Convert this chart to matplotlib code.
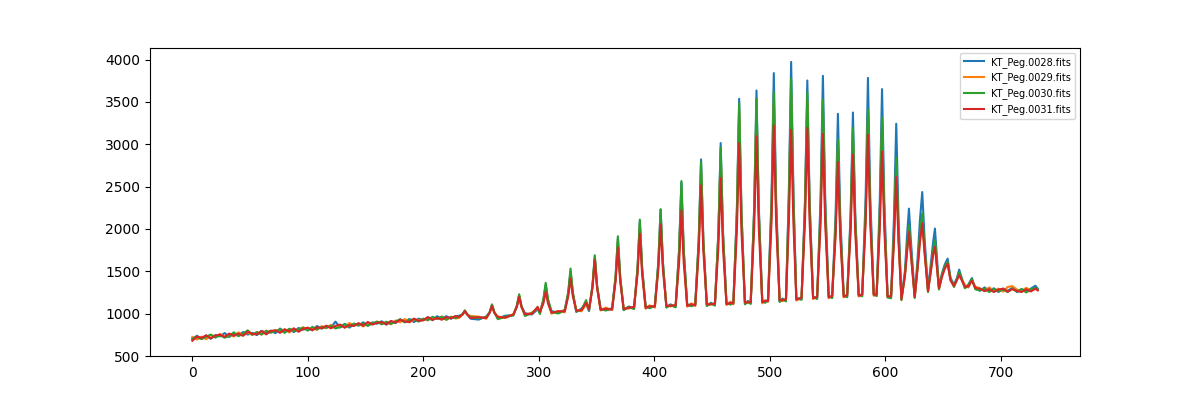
import numpy as np
import matplotlib
matplotlib.use('Agg')
import matplotlib.pyplot as plt

labels = ['KT_Peg.0028.fits', 'KT_Peg.0029.fits', 'KT_Peg.0030.fits', 'KT_Peg.0031.fits']

# flat part of the spectrum, every 4 pixels from 0 to 228
x_flat = list(range(0, 229, 4))
b_flat = [700, 739, 704, 743, 703, 747, 731, 771, 725, 760,
          739, 783, 753, 772, 747, 796, 775, 800, 769, 824,
          788, 817, 782, 831, 811, 830, 804, 854, 823, 853,
          837, 906, 836, 875, 835, 874, 858, 898, 857, 897,
          881, 910, 870, 909, 889, 933, 902, 937, 901, 941,
          925, 955, 922, 970, 938, 970, 940, 968]
o_flat = [725, 694, 729, 698, 748, 722, 761, 726, 750, 730,
          779, 748, 778, 747, 782, 751, 800, 780, 804, 779,
          818, 777, 817, 801, 841, 805, 829, 809, 853, 828,
          867, 831, 861, 835, 890, 859, 883, 848, 887, 872,
          906, 875, 900, 874, 919, 898, 937, 897, 931, 921,
          940, 920, 957, 935, 968, 925, 965, 943]
g_flat = [705, 724, 699, 728, 753, 717, 746, 716, 735, 780,
          734, 763, 803, 752, 782, 756, 795, 775, 794, 814,
          773, 822, 797, 816, 831, 800, 844, 814, 843, 833,
          857, 826, 841, 880, 845, 884, 863, 883, 857, 887,
          906, 875, 905, 879, 909, 933, 897, 922, 936, 906,
          940, 925, 962, 940, 963, 930, 960, 948]
r_flat = [680, 729, 714, 743, 708, 742, 751, 726, 765, 740,
          764, 738, 788, 762, 757, 796, 755, 795, 804, 774,
          813, 792, 827, 786, 821, 835, 804, 839, 828, 858,
          827, 856, 871, 835, 865, 854, 888, 858, 902, 872,
          891, 900, 875, 914, 894, 928, 907, 902, 941, 916,
          920, 960, 927, 950, 928, 960, 945, 973]

# emission-line region
x_lines = [231, 234, 236, 238, 241, 248,
           254.5, 257.5, 259.5, 261.5, 264.5, 271,
           278, 281, 283, 285, 288, 294, 299,
           301, 304, 306, 308, 311, 317,
           322.5, 325.5, 327.5, 329.5, 332.5, 337, 341,
           343.5, 346.5, 348.5, 350.5, 353.5, 358,
           363.5, 366.5, 368.5, 370.5, 373.5, 378,
           382.5, 385.5, 387.5, 389.5, 392.5, 396,
           400.5, 403.5, 405.5, 407.5, 410.5, 414,
           418.5, 421.5, 423.5, 425.5, 428.5, 432,
           435.5, 438.5, 440.5, 442.5, 445.5, 449,
           452.5, 455.5, 457.5, 459.5, 462.5, 466,
           468.5, 471.5, 473.5, 475.5, 478.5, 481,
           483.5, 486.5, 488.5, 490.5, 493.5, 496,
           498.5, 501.5, 503.5, 505.5, 508.5, 511,
           514, 516.5, 518.5, 520.5, 523,
           527.5, 530.5, 532.5, 534.5, 537.5,
           541, 544, 546, 548, 551,
           554, 557, 559, 561, 564,
           567, 570, 572, 574, 577,
           580, 583, 585, 587, 590,
           592.5, 595.2, 597.2, 599.2, 602,
           605, 607.5, 609.5, 611.5, 614,
           617, 619, 620.5, 622, 625.5,
           628, 630, 632, 634, 637,
           639.5, 641.5, 643, 644.5, 646.5,
           649, 651.5, 654, 656.5, 659.5,
           662, 664, 666, 669,
           672, 675, 678]
b_lines = [975, 990, 1030, 992, 940, 930,
           965, 1015, 1100, 1015, 945, 975,
           985, 1085, 1210, 1085, 1005, 990, 1050,
           1010, 1160, 1340, 1160, 1030, 1010,
           1045, 1240, 1500, 1240, 1020, 1060, 1120,
           1030, 1325, 1670, 1325, 1062, 1040,
           1065, 1430, 1890, 1430, 1045, 1085,
           1060, 1530, 2090, 1530, 1090, 1065,
           1095, 1600, 2230, 1600, 1075, 1110,
           1080, 1750, 2550, 1750, 1112, 1090,
           1115, 1875, 2821, 1875, 1095, 1128,
           1100, 1965, 3014, 1965, 1132, 1110,
           1135, 2210, 3537, 2210, 1115, 1150,
           1120, 2255, 3635, 2255, 1155, 1135,
           1165, 2360, 3840, 2360, 1145, 1178,
           1150, 2425, 3972, 2425, 1185,
           1168, 2340, 3753, 2340, 1200,
           1178, 2370, 3808, 2370, 1212,
           1188, 2170, 3360, 2170, 1222,
           1198, 2185, 3375, 2185, 1230,
           1208, 2375, 3784, 2375, 1238,
           1210, 2315, 3651, 2315, 1218,
           1185, 2120, 3242, 2120, 1188,
           1500, 1950, 2240, 1900, 1212,
           1650, 2100, 2436, 1900, 1282,
           1600, 1850, 2005, 1700, 1312,
           1470, 1580, 1650, 1420, 1345,
           1420, 1520, 1430, 1305,
           1345, 1420, 1295]
o_lines = [950, 990, 1030, 988, 972, 965,
           940, 1015, 1100, 1012, 968, 948,
           995, 1085, 1215, 1080, 985, 1012, 1060,
           1025, 1150, 1320, 1150, 1000, 1032,
           1015, 1230, 1480, 1230, 1042, 1028, 1110,
           1055, 1315, 1650, 1315, 1038, 1072,
           1042, 1410, 1850, 1410, 1065, 1060,
           1085, 1510, 2050, 1510, 1058, 1098,
           1072, 1560, 2150, 1560, 1100, 1085,
           1105, 1700, 2450, 1700, 1082, 1122,
           1090, 1820, 2700, 1820, 1118, 1105,
           1128, 1915, 2900, 1915, 1102, 1142,
           1110, 2145, 3400, 2145, 1140, 1125,
           1148, 2175, 3450, 2175, 1122, 1158,
           1140, 2210, 3500, 2210, 1168, 1148,
           1175, 2260, 3600, 2260, 1155,
           1195, 2225, 3500, 2225, 1172,
           1205, 2185, 3400, 2185, 1182,
           1215, 1990, 2950, 1990, 1192,
           1225, 2060, 3100, 2060, 1202,
           1235, 2155, 3300, 2155, 1210,
           1238, 2110, 3200, 2110, 1195,
           1212, 1900, 2750, 1900, 1165,
           1450, 1780, 2000, 1760, 1192,
           1550, 1880, 2120, 1750, 1262,
           1520, 1720, 1830, 1600, 1292,
           1440, 1540, 1590, 1400, 1322,
           1400, 1470, 1410, 1340,
           1308, 1400, 1318]
g_lines = [965, 995, 1040, 995, 958, 950,
           955, 1020, 1110, 1020, 935, 962,
           978, 1095, 1230, 1095, 972, 1005, 1070,
           995, 1170, 1364, 1170, 1018, 1002,
           1038, 1255, 1533, 1255, 1025, 1048, 1160,
           1040, 1330, 1690, 1330, 1052, 1038,
           1058, 1440, 1914, 1440, 1042, 1078,
           1055, 1540, 2111, 1540, 1082, 1068,
           1090, 1600, 2232, 1600, 1072, 1100,
           1075, 1755, 2566, 1755, 1102, 1088,
           1108, 1860, 2790, 1860, 1090, 1120,
           1095, 1940, 2959, 1940, 1122, 1108,
           1128, 2185, 3485, 2185, 1110, 1142,
           1115, 2215, 3537, 2215, 1145, 1128,
           1158, 2260, 3616, 2260, 1138, 1168,
           1145, 2335, 3772, 2335, 1178,
           1165, 2275, 3616, 2275, 1195,
           1175, 2240, 3525, 2240, 1205,
           1185, 2035, 3057, 2035, 1215,
           1195, 2105, 3195, 2105, 1225,
           1205, 2205, 3407, 2205, 1232,
           1208, 2160, 3313, 2160, 1190,
           1182, 1940, 2841, 1940, 1160,
           1460, 1800, 2044, 1780, 1185,
           1570, 1920, 2182, 1780, 1255,
           1540, 1750, 1867, 1620, 1285,
           1450, 1560, 1610, 1410, 1315,
           1405, 1490, 1415, 1300,
           1335, 1410, 1288]
r_lines = [958, 990, 1030, 990, 948, 958,
           948, 1010, 1090, 1010, 960, 955,
           990, 1080, 1200, 1080, 995, 998, 1080,
           1020, 1120, 1260, 1120, 1012, 1028,
           1028, 1205, 1416, 1205, 1036, 1040, 1130,
           1050, 1305, 1631, 1305, 1045, 1058,
           1048, 1380, 1781, 1380, 1055, 1070,
           1078, 1465, 1946, 1465, 1068, 1088,
           1084, 1520, 2055, 1520, 1090, 1094,
           1098, 1600, 2220, 1600, 1092, 1110,
           1100, 1740, 2515, 1740, 1110, 1112,
           1118, 1780, 2601, 1780, 1112, 1128,
           1120, 1970, 3014, 1970, 1132, 1134,
           1138, 2015, 3093, 2015, 1135, 1152,
           1148, 2080, 3222, 2080, 1160, 1160,
           1168, 2065, 3171, 2065, 1165,
           1188, 2085, 3195, 2085, 1182,
           1198, 2060, 3124, 2060, 1192,
           1208, 1915, 2790, 1915, 1202,
           1218, 1960, 2880, 1960, 1212,
           1226, 2070, 3112, 2070, 1222,
           1228, 1985, 2916, 1985, 1202,
           1205, 1835, 2613, 1835, 1172,
           1440, 1750, 1965, 1720, 1198,
           1530, 1840, 2064, 1720, 1268,
           1500, 1700, 1788, 1580, 1298,
           1430, 1530, 1590, 1390, 1328,
           1395, 1455, 1400, 1318,
           1322, 1390, 1304]

# red end of the spectrum
x_tail = [682, 686, 690, 694, 698, 702, 706, 710, 714, 718, 722, 726, 730, 732]
b_tail = [1270, 1310, 1265, 1300, 1255, 1295, 1270, 1305, 1255, 1290, 1265, 1295, 1330, 1295]
o_tail = [1300, 1270, 1310, 1265, 1295, 1260, 1315, 1325, 1285, 1265, 1305, 1275, 1295, 1280]
g_tail = [1275, 1295, 1255, 1290, 1265, 1285, 1255, 1295, 1262, 1290, 1250, 1285, 1305, 1285]
r_tail = [1295, 1265, 1290, 1255, 1285, 1295, 1260, 1290, 1268, 1255, 1288, 1262, 1295, 1275]

x = np.array(x_flat + x_lines + x_tail, dtype=float)
series = [b_flat + b_lines + b_tail,
          o_flat + o_lines + o_tail,
          g_flat + g_lines + g_tail,
          r_flat + r_lines + r_tail]

fig, ax = plt.subplots(figsize=(12, 4), dpi=100)
for y, name in zip(series, labels):
    ax.plot(x, y, label=name)
ax.set_ylim(bottom=500)
ax.legend(loc='upper right', fontsize=7)
fig.savefig('out.png')
